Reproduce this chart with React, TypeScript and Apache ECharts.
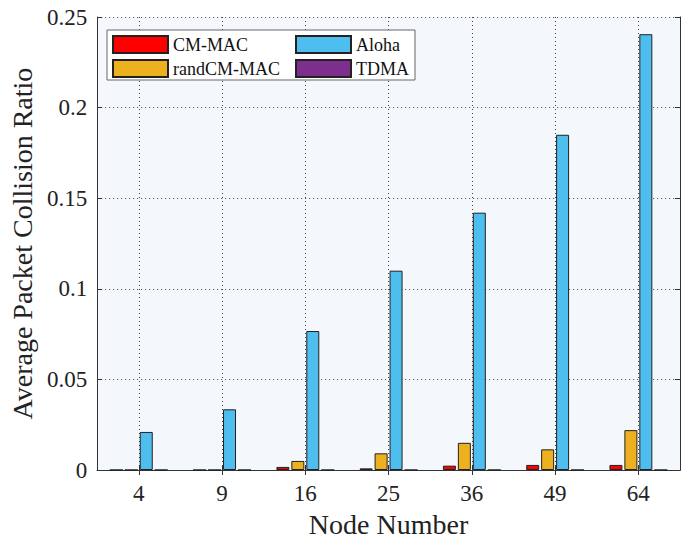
import React, { useEffect, useRef } from "react";
import * as echarts from "echarts";

const categories = ["4", "9", "16", "25", "36", "49", "64"];
const cmMac = [0, 0, 0.0017, 0.0009, 0.0024, 0.0028, 0.0028];
const randCmMac = [0, 0, 0.005, 0.0092, 0.015, 0.0114, 0.022];
const aloha = [0.021, 0.0335, 0.0767, 0.11, 0.142, 0.185, 0.2405];
const tdma = [0, 0, 0, 0, 0, 0, 0];

const FONT = "Liberation Serif";
const gridLine = { show: true, lineStyle: { color: "#444", width: 1, type: [1, 3] as any } };

export default function App() {
  const ref = useRef<HTMLDivElement>(null);
  useEffect(() => {
    const chart = echarts.init(ref.current!, null, { renderer: "svg" });
    const mk = (name: string, data: number[], color: string) => ({
      name,
      type: "bar",
      data,
      barWidth: 13,
      barGap: "15%",
      itemStyle: { color, borderColor: "#222", borderWidth: 1 },
    });
    const legendBase = {
      z: 10,
      orient: "vertical",
      top: 35,
      padding: 0,
      itemGap: 5,
      itemWidth: 55,
      itemHeight: 17,
      icon: "rect",
      textStyle: { fontFamily: FONT, fontSize: 18, color: "#111" },
    };
    chart.setOption({
      animation: false,
      backgroundColor: "#fff",
      grid: { left: 94, right: 9, top: 17, bottom: 75, show: true, backgroundColor: "#f4f7fc", borderWidth: 0 },
      graphic: [
        {
          type: "rect",
          z: 5,
          shape: { x: 107, y: 30, width: 308, height: 50 },
          style: { fill: "#ffffff", stroke: "#666", lineWidth: 1 },
        },
      ],
      legend: [
        { ...legendBase, left: 112, data: ["CM-MAC", "randCM-MAC"] },
        { ...legendBase, left: 295, data: ["Aloha", "TDMA"] },
      ],
      xAxis: [
        {
          type: "category",
          data: categories,
          name: "Node Number",
          nameLocation: "middle",
          nameGap: 40,
          nameTextStyle: { fontFamily: FONT, fontSize: 28, color: "#222" },
          axisLine: { show: true, lineStyle: { color: "#333", width: 1 } },
          axisTick: { show: true, inside: true, alignWithLabel: true, length: 5, lineStyle: { color: "#333" } },
          axisLabel: { fontFamily: FONT, fontSize: 23, color: "#222", margin: 12 },
          splitLine: { ...gridLine, alignWithLabel: true } as any,
        },
        {
          type: "category",
          data: categories,
          position: "top",
          axisLine: { show: true, lineStyle: { color: "#333", width: 1 } },
          axisTick: { show: true, inside: true, alignWithLabel: true, length: 5, lineStyle: { color: "#333" } },
          axisLabel: { show: false },
          splitLine: { show: false },
        },
      ],
      yAxis: [
        {
          type: "value",
          min: 0,
          max: 0.25,
          interval: 0.05,
          name: "Average Packet Collision Ratio",
          nameLocation: "middle",
          nameGap: 57,
          nameTextStyle: { fontFamily: FONT, fontSize: 28, color: "#222" },
          axisLine: { show: true, lineStyle: { color: "#333", width: 1 } },
          axisTick: { show: true, inside: true, length: 5, lineStyle: { color: "#333" } },
          axisLabel: { fontFamily: FONT, fontSize: 23, color: "#222", margin: 10 },
          splitLine: gridLine,
        },
        {
          type: "value",
          min: 0,
          max: 0.25,
          interval: 0.05,
          position: "right",
          axisLine: { show: true, lineStyle: { color: "#333", width: 1 } },
          axisTick: { show: true, inside: true, length: 5, lineStyle: { color: "#333" } },
          axisLabel: { show: false },
          splitLine: { show: false },
        },
      ],
      series: [
        mk("CM-MAC", cmMac, "#ff0000"),
        mk("randCM-MAC", randCmMac, "#edb120"),
        mk("Aloha", aloha, "#4dbeee"),
        mk("TDMA", tdma, "#7e2f8e"),
      ],
    });
    return () => chart.dispose();
  }, []);
  return <div ref={ref} style={{ width: 689, height: 545, position: "absolute", left: 0, top: 0 }} />;
}
